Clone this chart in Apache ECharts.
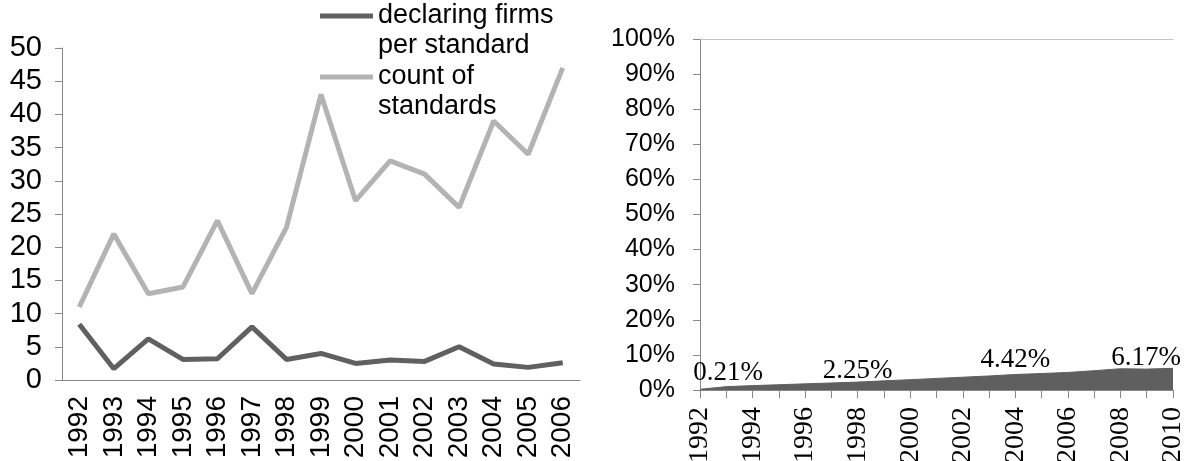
<!DOCTYPE html>
<html>
<head>
<meta charset="utf-8">
<script src="https://cdn.jsdelivr.net/npm/echarts@6/dist/echarts.min.js"></script>
<style>
  html, body { margin: 0; padding: 0; background: #fff; }
  #chart { width: 1190px; height: 461px; }
</style>
</head>
<body>
<div id="chart"></div>
<script>
  // left panel
  var years = ['1992', '1993', '1994', '1995', '1996', '1997', '1998', '1999', '2000', '2001', '2002', '2003', '2004', '2005', '2006'];
  var firmsPerStandard = [8.4, 1.7, 6.2, 3.1, 3.2, 8.0, 3.1, 4.0, 2.5, 3.0, 2.8, 5.0, 2.4, 1.9, 2.6];
  var countOfStandards = [11, 22, 13, 14, 24, 13, 23, 43, 27, 33, 31, 26, 39, 34, 47];
  var leftTicks = [0, 50, 5];

  // right panel
  var shareYears = ['1992', '1993', '1994', '1995', '1996', '1997', '1998', '1999', '2000', '2001',
    '2002', '2003', '2004', '2005', '2006', '2007', '2008', '2009', '2010'];
  var sharePct = [0.21, 0.95, 1.25, 1.5, 1.75, 2.0, 2.25, 2.6, 2.95, 3.3,
    3.65, 4.0, 4.42, 4.7, 5.0, 5.5, 6.05, 5.95, 6.17];
  var labeledYears = ['1992', '1998', '2004', '2010'];
  var rightTicks = [0, 100, 10];

  var axisGray = '#888888';
  var sans = 'Liberation Sans, Arial, sans-serif';
  var serif = 'Liberation Serif, Times New Roman, serif';

  // label nudges so they sit like the original
  var labelOffset = {
    '1992': [28, -3],
    '1998': [0, 2],
    '2004': [0, -1],
    '2010': [-27, 3]
  };

  var shareData = sharePct.map(function (v, i) {
    var y = shareYears[i];
    if (labeledYears.indexOf(y) < 0) return v;
    return {
      value: v,
      label: {
        show: true,
        position: 'top',
        distance: 0,
        offset: labelOffset[y],
        formatter: v.toFixed(2) + '%'
      }
    };
  });

  var myChart = echarts.init(document.getElementById('chart'));
  var options = {
    animation: false,
    backgroundColor: '#fff',
    legend: {
      orient: 'vertical',
      left: 320,
      top: -29,
      padding: 0,
      itemGap: -29,
      itemWidth: 53,
      itemHeight: 5,
      icon: 'rect',
      textStyle: {
        fontFamily: sans,
        fontSize: 27,
        color: '#000',
        lineHeight: 30
      },
      data: ['declaring firms per standard', 'count of standards'],
      formatter: function (name) {
        // blank first line keeps the first text line level with the icon
        return name === 'count of standards' ? '\u00a0\ncount of\nstandards' : '\u00a0\ndeclaring firms\nper standard';
      }
    },
    grid: [
      { left: 62, top: 48, width: 518, bottom: 81, outerBoundsMode: 'none' },
      { left: 700, top: 39, width: 473, bottom: 71, outerBoundsMode: 'none' }
    ],
    xAxis: [
      {
        gridIndex: 0,
        type: 'category',
        data: years,
        boundaryGap: true,
        axisLine: { lineStyle: { color: axisGray } },
        axisTick: { length: 8, lineStyle: { color: axisGray } },
        axisLabel: {
          rotate: 90,
          interval: 0,
          margin: 16,
          fontFamily: sans,
          fontSize: 28,
          color: '#000'
        }
      },
      {
        gridIndex: 1,
        type: 'category',
        data: shareYears,
        boundaryGap: false,
        axisLine: { lineStyle: { color: axisGray } },
        axisTick: { length: 8, interval: 0, lineStyle: { color: axisGray } },
        axisLabel: {
          rotate: 90,
          interval: 1,
          margin: 17,
          fontFamily: serif,
          fontSize: 28,
          color: '#000'
        }
      },
      {
        // thin line along the 100% edge
        gridIndex: 1,
        type: 'category',
        data: shareYears,
        position: 'top',
        boundaryGap: false,
        axisLine: { lineStyle: { color: '#c4c4c4' } },
        axisTick: { show: false },
        axisLabel: { show: false }
      }
    ],
    yAxis: [
      {
        gridIndex: 0,
        type: 'value',
        min: leftTicks[0],
        max: leftTicks[1],
        interval: leftTicks[2],
        splitLine: { show: false },
        axisLine: { show: true, lineStyle: { color: axisGray } },
        axisTick: { show: true, length: 7, lineStyle: { color: axisGray } },
        axisLabel: { margin: 20, fontFamily: sans, fontSize: 29, color: '#000' }
      },
      {
        gridIndex: 1,
        type: 'value',
        min: rightTicks[0],
        max: rightTicks[1],
        interval: rightTicks[2],
        splitLine: { show: false },
        axisLine: { show: true, lineStyle: { color: axisGray } },
        axisTick: { show: true, length: 7, lineStyle: { color: axisGray } },
        axisLabel: { margin: 25, fontFamily: sans, fontSize: 25, color: '#000', formatter: '{value}%' }
      }
    ],
    series: [
      {
        name: 'declaring firms per standard',
        type: 'line',
        xAxisIndex: 0,
        yAxisIndex: 0,
        data: firmsPerStandard,
        showSymbol: false,
        color: '#606060',
        lineStyle: { width: 5, color: '#606060' },
        z: 3
      },
      {
        name: 'count of standards',
        type: 'line',
        xAxisIndex: 0,
        yAxisIndex: 0,
        data: countOfStandards,
        showSymbol: false,
        color: '#b3b3b3',
        lineStyle: { width: 5, color: '#b3b3b3' },
        z: 2
      },
      {
        name: 'share',
        type: 'line',
        xAxisIndex: 1,
        yAxisIndex: 1,
        data: shareData,
        symbol: 'circle',
        symbolSize: 0.1,
        showSymbol: true,
        color: '#5f5f5f',
        lineStyle: { width: 1, color: '#5f5f5f' },
        areaStyle: { color: '#5f5f5f', opacity: 1 },
        label: {
          show: false,
          fontFamily: serif,
          fontSize: 27,
          color: '#000'
        },
        z: 2
      }
    ]
  };
  myChart.setOption(options);
</script>
</body>
</html>
